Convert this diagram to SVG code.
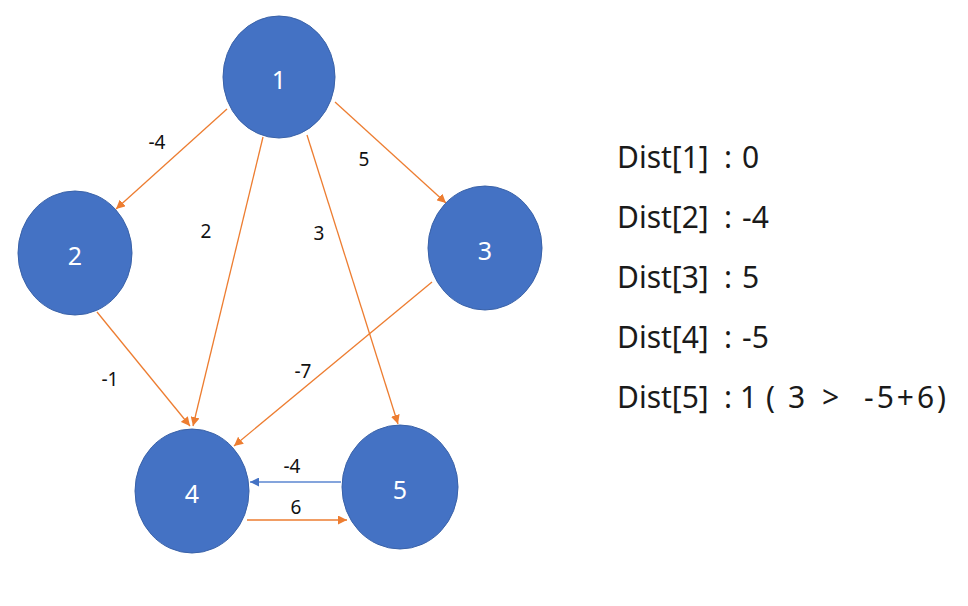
<svg xmlns="http://www.w3.org/2000/svg" width="968" height="606" viewBox="0 0 968 606">
  <style>
    .node ellipse { fill: #4472C4; stroke: #3A62A8; stroke-width: 1; }
    .node text { fill: #ffffff; font-family: "Noto Sans", "DejaVu Sans", sans-serif; font-size: 25px; text-anchor: middle; dominant-baseline: central; }
    .edge { fill: none; stroke: #ED7D31; stroke-width: 1.3; marker-end: url(#arrow-o); }
    .edge.blue { stroke: #5B86D0; marker-end: url(#arrow-b); }
    .wt { font-family: "Noto Sans", "DejaVu Sans", sans-serif; font-size: 19px; fill: #111111; text-anchor: middle; dominant-baseline: central; }
    .dist { font-family: "Noto Sans", "DejaVu Sans", sans-serif; font-size: 30px; fill: #1a1a1a; }
  </style>
  <defs>
    <marker id="arrow-o" viewBox="0 0 10 10" refX="10" refY="5" markerWidth="9" markerHeight="9" markerUnits="userSpaceOnUse" orient="auto">
      <path d="M0,0 L10,5 L0,10 z" fill="#ED7D31"/>
    </marker>
    <marker id="arrow-b" viewBox="0 0 10 10" refX="10" refY="5" markerWidth="9" markerHeight="9" markerUnits="userSpaceOnUse" orient="auto">
      <path d="M0,0 L10,5 L0,10 z" fill="#4472C4"/>
    </marker>
  </defs>

  <g id="connectors">
    <line class="edge" x1="227" y1="109" x2="116" y2="209"/>
    <line class="edge" x1="263" y1="137" x2="193" y2="426"/>
    <line class="edge" x1="307" y1="135" x2="398" y2="424"/>
    <line class="edge" x1="335" y1="102" x2="446" y2="203"/>
    <line class="edge" x1="97" y1="312" x2="190" y2="426"/>
    <line class="edge" x1="432" y1="282" x2="234" y2="446"/>
    <line class="edge blue" x1="341" y1="482" x2="250" y2="482"/>
    <line class="edge" x1="247" y1="520" x2="347" y2="520"/>
  </g>

  <g id="weights">
    <text class="wt" x="157" y="142">-4</text>
    <text class="wt" x="364" y="159">5</text>
    <text class="wt" x="206" y="231">2</text>
    <text class="wt" x="319" y="233">3</text>
    <text class="wt" x="110" y="379">-1</text>
    <text class="wt" x="303" y="371">-7</text>
    <text class="wt" x="292" y="466">-4</text>
    <text class="wt" x="296" y="507">6</text>
  </g>

  <g id="node-1" class="node"><ellipse cx="279" cy="77" rx="56" ry="61"/><text x="279" y="79">1</text></g>
  <g id="node-2" class="node"><ellipse cx="75" cy="253" rx="57" ry="62"/><text x="75" y="255">2</text></g>
  <g id="node-3" class="node"><ellipse cx="485" cy="248" rx="57" ry="62"/><text x="485" y="250">3</text></g>
  <g id="node-4" class="node"><ellipse cx="192" cy="491" rx="57" ry="62"/><text x="192" y="493">4</text></g>
  <g id="node-5" class="node"><ellipse cx="400" cy="487" rx="58" ry="62"/><text x="400" y="489">5</text></g>

  <g id="dist-table" class="dist">
    <text y="168"><tspan x="617">Dist[1]</tspan><tspan x="724">:</tspan><tspan x="742">0</tspan></text>
    <text y="228"><tspan x="617">Dist[2]</tspan><tspan x="724">:</tspan><tspan x="742">-4</tspan></text>
    <text y="288"><tspan x="617">Dist[3]</tspan><tspan x="724">:</tspan><tspan x="742">5</tspan></text>
    <text y="348"><tspan x="617">Dist[4]</tspan><tspan x="724">:</tspan><tspan x="742">-5</tspan></text>
    <text y="408"><tspan x="617">Dist[5]</tspan><tspan x="724">:</tspan><tspan x="740">1</tspan><tspan x="766">(</tspan><tspan x="788">3</tspan><tspan x="822">&gt;</tspan><tspan x="864" textLength="82" lengthAdjust="spacing">-5+6)</tspan></text>
  </g>
</svg>
